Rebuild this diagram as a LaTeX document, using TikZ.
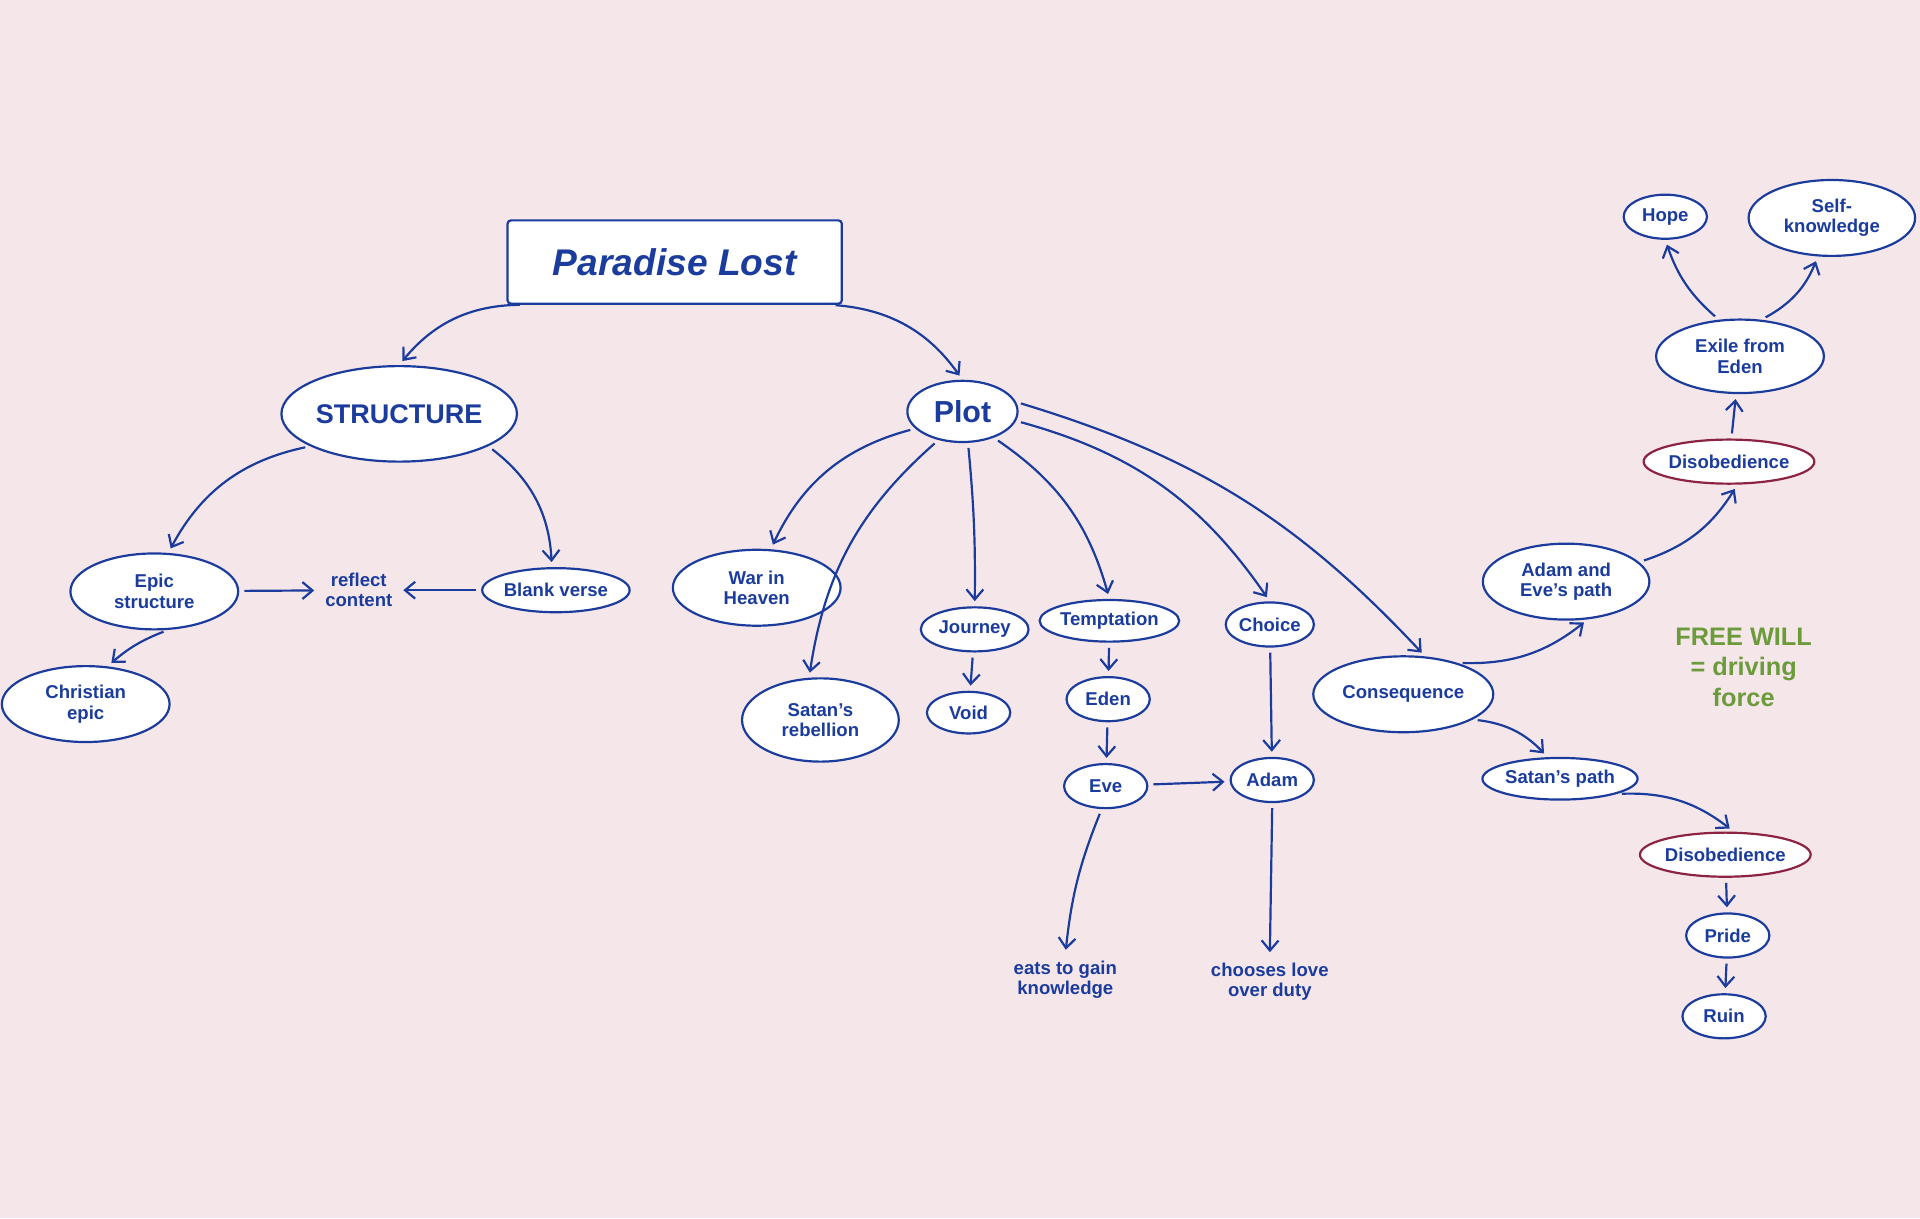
\documentclass[tikz,border=0pt]{standalone}
\usepackage{fontspec}
\setmainfont{Liberation Sans}
\usetikzlibrary{shapes.geometric,arrows.meta,positioning}
\definecolor{ink}{HTML}{1B3C9C}
\definecolor{bgpink}{HTML}{F5E6EA}
\definecolor{wine}{HTML}{8C2343}
\definecolor{leaf}{HTML}{6B9B3A}
\def\u{0.0255cm}
\tikzset{
    oval/.style 2 args = {draw=ink, ellipse, line width=1.3pt, fill=white,
        inner sep=0pt, minimum width=#1*\u, minimum height=#2*\u,
        align=center, text=ink, font=\bfseries\fontsize{11}{12}\selectfont},
    redoval/.style 2 args = {oval={#1}{#2}, draw=wine},
    note/.style = {align=center, text=ink, font=\bfseries\fontsize{11}{12}\selectfont},
    link/.style = {-{Straight Barb[length=6pt,width=10pt]}, draw=ink,
        line width=1.3pt, shorten <=3pt, shorten >=3pt},
}
\begin{document}
\begin{tikzpicture}[x=\u,y=\u]
		% background
		\fill[bgpink] (0,0) rectangle (1568,995);
		\useasboundingbox (0,0) rectangle (1568,995);
		% title
		\node [draw=ink, rectangle, rounded corners=2pt, line width=1.3pt, fill=white,
		       minimum width=273*\u, minimum height=68*\u, text=ink,
		       font=\bfseries\itshape\fontsize{22}{24}\selectfont] (title) at (551,781) {Paradise Lost};
		% structure side
		\node [oval={185}{78}, font=\bfseries\fontsize{16}{18}\selectfont] (structure) at (326,657) {STRUCTURE};
		\node [oval={137}{62}] (epic) at (126,512) {Epic\\structure};
		\node [note] (reflect) at (293,513) {reflect\\content};
		\node [oval={118}{36}] (blank) at (454,513) {Blank verse};
		\node [oval={137}{62}] (christian) at (70,420) {Christian\\epic};
		% plot side
		\node [oval={90}{50}, font=\bfseries\fontsize{18}{20}\selectfont] (plot) at (786,659) {Plot};
		\node [oval={137}{62}] (war) at (618,515) {War in\\Heaven};
		\node [oval={128}{68}] (rebellion) at (670,407) {Satan's\\rebellion};
		\node [oval={88}{36}] (journey) at (796,481) {Journey};
		\node [oval={68}{34}] (void) at (791,413) {Void};
		\node [oval={113}{34}] (temptation) at (906,488) {Temptation};
		\node [oval={68}{36}] (eden) at (905,424) {Eden};
		\node [oval={68}{36}] (eve) at (903,353) {Eve};
		\node [oval={72}{36}] (choice) at (1037,485) {Choice};
		\node [oval={68}{36}] (adam) at (1039,358) {Adam};
		\node [note] (eats) at (870,195) {eats to gain\\knowledge};
		\node [note] (chooses) at (1037,193) {chooses love\\over duty};
		% consequence branch
		\node [oval={147}{62}] (consequence) at (1146,428) {Consequence};
		\node [oval={136}{62}] (aepath) at (1279,520) {Adam and\\Eve's path};
		\node [redoval={137}{36}] (disob1) at (1412,618) {Disobedience};
		\node [oval={137}{60}] (exile) at (1421,704) {Exile from\\Eden};
		\node [oval={68}{36}] (hope) at (1360,818) {Hope};
		\node [oval={136}{62}] (self) at (1496,817) {Self-\\knowledge};
		\node [oval={124}{34}] (satpath) at (1274,359) {Satan's path};
		\node [redoval={137}{36}] (disob2) at (1409,297) {Disobedience};
		\node [oval={68}{36}] (pride) at (1411,231) {Pride};
		\node [oval={68}{36}] (ruin) at (1408,165) {Ruin};
		\node [note, text=leaf, font=\bfseries\fontsize{15}{18}\selectfont] (freewill) at (1424,450) {FREE WILL\\= driving\\force};
		
		% connecting lines
		\draw [link] ([xshift=15*\u]title.south west) to[bend right=25] (structure.north);
		\draw [link] ([xshift=-10*\u]title.south east) to[bend left=25] (plot.north);
		\draw [link] (structure.200) to[bend right=25] (epic.70);
		\draw [link] (structure.-20) to[bend left=25] (blank.100);
		\draw [link] (epic.-70) to[bend right=10] (christian.60);
		\draw [link] (epic) -- (reflect);
		\draw [link] (blank) -- (reflect);
		\draw [link] (plot.200) to[bend right=25] (war.70);
		\draw [link] (plot.230) to[bend right=20] (rebellion.105);
		\draw [link] (plot.-80) to[bend left=3] (journey.north);
		\draw [link] (plot.-40) to[bend left=20] (temptation.north);
		\draw [link] (plot.-10) to[bend left=20] (choice.north);
		\draw [link] (plot.10) to[bend left=15] (consequence.60);
		\draw [link] (journey) -- (void);
		\draw [link] (temptation) -- (eden);
		\draw [link] (eden) -- (eve);
		\draw [link] (eve) -- (adam);
		\draw [link] (choice) -- (adam);
		\draw [link] (eve.-100) to[bend right=8] (eats.north);
		\draw [link] (adam.south) -- (chooses.north);
		\draw [link] (consequence.30) to[bend right=20] (aepath.-60);
		\draw [link] (aepath.15) to[bend right=20] (disob1.-70);
		\draw [link] (disob1) -- (exile);
		\draw [link] (exile.120) to[bend left=15] (hope.-90);
		\draw [link] (exile.60) to[bend right=20] (self.-110);
		\draw [link] (consequence.-20) to[bend left=20] (satpath.120);
		\draw [link] (satpath.-15) to[bend left=20] (disob2.70);
		\draw [link] (disob2) -- (pride);
		\draw [link] (pride) -- (ruin);
	\end{tikzpicture}
\end{document}
